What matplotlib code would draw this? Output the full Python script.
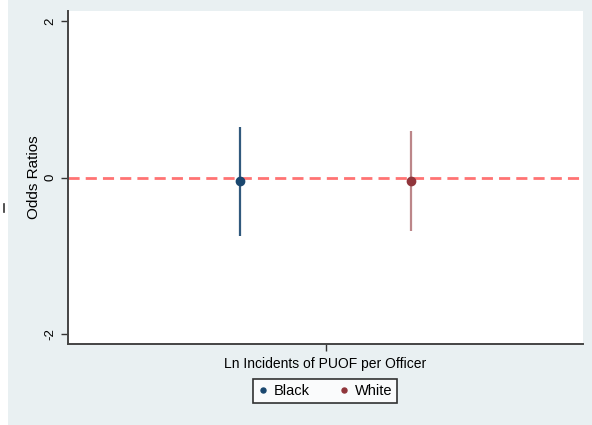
import matplotlib.pyplot as plt
from matplotlib.patches import Rectangle
from matplotlib.lines import Line2D

# Coefficient estimates with 95% CIs
groups = ["Black", "White"]
positions = [1, 2]
estimates = [-0.04, -0.04]
ci_low = [-0.75, -0.68]
ci_high = [0.65, 0.59]
colors = ["#1a476f", "#90353b"]

plt.rcParams["font.family"] = ["Liberation Sans", "DejaVu Sans"]

fig = plt.figure(figsize=(5.92, 4.25), dpi=100)
fig.patch.set_facecolor("white")
# graph region background
fig.add_artist(Rectangle((8 / 592, 0), 1, 1, transform=fig.transFigure,
                         facecolor="#e9f0f2", edgecolor="none", zorder=-10))
fig.add_artist(Line2D([4 / 592, 4 / 592], [1 - 212 / 425, 1 - 204 / 425],
                      transform=fig.transFigure, color="#333333", lw=1.2))

ax = fig.add_axes([68 / 592, 1 - 344 / 425, 515 / 592, 333 / 425])
ax.set_facecolor("white")

ax.axhline(0, color="#ff7373", lw=2, ls=(0, (4, 2.2)), zorder=1)

for x, est, lo, hi, c, g in zip(positions, estimates, ci_low, ci_high, colors, groups):
    ax.vlines(x, lo, hi, color=c, lw=1.6, alpha=0.6 if g == "White" else 0.9, zorder=2)
    ax.plot(x, est, "o", color=c, ms=6, zorder=3, label=g)

ax.set_xlim(0.0, 3.0)
ax.set_ylim(-2.13, 2.13)
ax.set_yticks([-2, 0, 2])
ax.set_yticklabels(["-2", "0", "2"], rotation=90, va="center", fontsize=9.5)
ax.set_xticks([1.5])
ax.set_xticklabels([""])
ax.tick_params(length=5, width=1, color="#333333")

for side in ["top", "right"]:
    ax.spines[side].set_visible(False)
for side in ["left", "bottom"]:
    ax.spines[side].set_color("#444444")
    ax.spines[side].set_linewidth(1.4)

ax.set_ylabel("Odds Ratios", fontsize=11, labelpad=2)
ax.set_xlabel("Ln Incidents of PUOF per Officer", fontsize=10, labelpad=1)

leg = fig.legend(loc="center", bbox_to_anchor=(325 / 592, 1 - 391 / 425),
                 ncol=2, fontsize=10.5, frameon=True, fancybox=False,
                 edgecolor="black", markerscale=0.6, handlelength=0.7,
                 handletextpad=0.4, columnspacing=2.0, borderpad=0.35)
leg.get_frame().set_linewidth(1.2)

fig.savefig("out.png", dpi=100)
